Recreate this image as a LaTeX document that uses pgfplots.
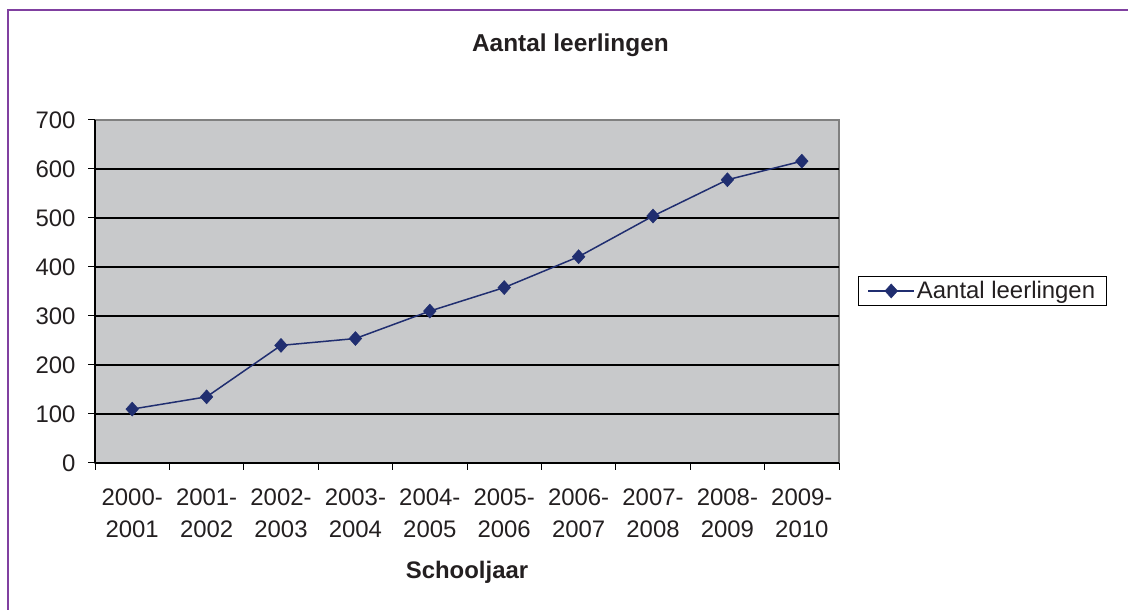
\documentclass[border=0pt]{standalone}
\usepackage{pgfplots}
\pgfplotsset{compat=1.18}
\usepackage{fontspec}
\setmainfont{Liberation Sans}
\definecolor{frame}{RGB}{128,64,160}
\definecolor{bggray}{RGB}{200,201,203}
\definecolor{navy}{RGB}{32,46,112}
\definecolor{txt}{RGB}{35,31,32}
\begin{document}
\begin{tikzpicture}[x=1bp,y=1bp]
\path[use as bounding box] (0,0) rectangle (1128,610);
\draw[frame, line width=2.5bp] (8,0) -- (8,600) -- (1128,600);
\begin{axis}[
  at={(95bp,147bp)}, anchor=south west,
  width=744bp, height=343bp, scale only axis,
  xmin=-0.5, xmax=9.5, ymin=0, ymax=700,
  axis x line*=bottom, axis y line*=left,
  axis line style={-, black, line width=1.3bp},
  axis background/.style={fill=bggray, draw=gray, line width=1.3bp},
  xtick={0,...,9},
  xticklabels={{2000-\\2001},{2001-\\2002},{2002-\\2003},{2003-\\2004},{2004-\\2005},{2005-\\2006},{2006-\\2007},{2007-\\2008},{2008-\\2009},{2009-\\2010}},
  major x tick style={draw=none},
  minor xtick={-0.5,0.5,...,9.5},
  minor tick length=7bp,
  ytick={0,100,...,700},
  major tick length=7bp,
  tick align=outside,
  tick style={black, line width=1bp},
  extra y ticks={100,200,300,400,500,600},
  extra y tick style={grid=major, yticklabels={}, major tick length=0pt},
  grid style={black, line width=1.2bp},
  /pgf/number format/assume math mode=true,
  ticklabel style={font=\fontsize{24}{32}\selectfont, text=txt},
  xticklabel style={align=center, yshift=-15bp},
  yticklabel style={xshift=-9bp},
  title={\textbf{Aantal leerlingen}},
  title style={at={(axis description cs:0.639,1.1816)}, anchor=base, font=\fontsize{24.5}{28}\selectfont, text=txt},
  xlabel={\textbf{Schooljaar}},
  xlabel style={at={(axis description cs:0.5,-0.338)}, anchor=base, font=\fontsize{24}{28}\selectfont, text=txt},
  legend style={at={(axis description cs:1.0255,0.5015)}, anchor=west, draw=black, line width=1bp,
    font=\fontsize{24}{28}\selectfont, text=txt, inner xsep=9bp, inner ysep=3bp},
  legend image code/.code={
    \draw[#1, line width=1.5bp] (0bp,0bp) -- (46bp,0bp);
    \draw[#1, only marks] plot coordinates {(23bp,0bp)};
  },
]
\addplot[navy, line width=1.5bp, mark=diamond*, mark size=7bp, mark options={fill=navy, draw=navy, line width=0.5bp, xscale=1.2}]
  coordinates {(0,110) (1,135) (2,240) (3,254) (4,310) (5,358) (6,421) (7,504) (8,578) (9,616)};
\addlegendentry{Aantal leerlingen}
\end{axis}
\end{tikzpicture}
\end{document}
